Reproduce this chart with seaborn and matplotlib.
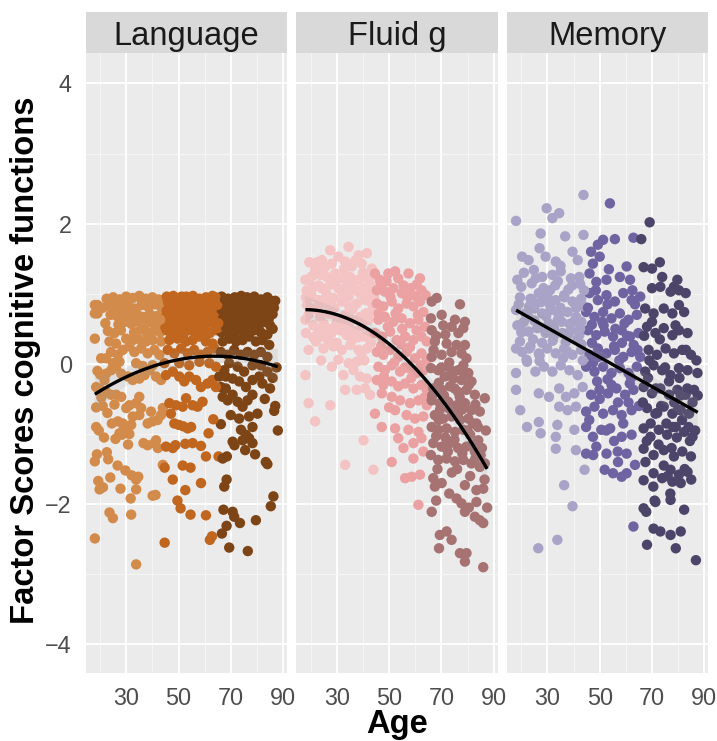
import numpy as np
import pandas as pd
import seaborn as sns
import matplotlib.pyplot as plt
from matplotlib.patches import Rectangle
from matplotlib.collections import PolyCollection

# ---- chart content -------------------------------------------------------
panels = ["Language", "Fluid g", "Memory"]
fit_order = [2, 2, 1]
age_bins = [0, 44.5, 65.5, 100]
age_groups = ["young", "middle", "old"]
palettes = [
    ["#D38B4B", "#C0661F", "#7D4416"],
    ["#F4C3C3", "#EBA1A1", "#A67272"],
    ["#A9A4C7", "#6F63A1", "#4C4469"],
]
x_ticks = [30, 50, 70, 90]
y_ticks = [-4, -2, 0, 2, 4]

# (age, factor score) per participant
language = [
    (18.0, -2.49), (33.8, -2.86), (44.7, -2.55), (62.0, -2.51), (62.8, -2.46), (69.4, -2.62),
    (76.5, -2.67), (66.6, -2.42), (68.4, -2.31), (73.5, -2.27), (79.6, -2.23), (67.2, -2.08),
    (70.7, -2.11), (71.3, -2.18), (85.3, -2.03), (86.3, -1.89), (54.6, -2.15), (50.8, -2.06),
    (49.6, -1.95), (60.5, -2.16), (31.9, -2.15), (23.6, -2.12), (24.9, -2.20),
    (52.6, -1.80), (58.6, -1.70), (67.5, -1.75), (68.4, -1.65), (40.1, -1.88), (41.2, -1.87),
    (31.7, -1.92), (33.8, -1.79), (27.8, -1.78), (19.8, -1.79), (19.3, -1.67), (21.1, -1.76),
    (23.9, -1.62), (29.7, -1.52), (32.1, -1.59), (33.8, -1.65), (34.6, -1.61), (26.7, -1.45),
    (47.8, -1.65), (44.0, -1.44), (44.7, -1.48), (51.6, -1.45), (54.6, -1.48),
    (18.0, -1.39), (18.8, -1.29), (22.6, -1.26), (23.1, -1.36), (30.7, -1.15), (25.9, -1.07),
    (28.4, -1.01), (36.6, -1.13), (38.2, -1.16), (40.8, -1.13), (42.1, -1.20), (41.4, -1.09),
    (45.2, -1.18), (47.8, -1.20), (48.8, -1.16), (52.6, -1.14), (55.4, -1.13), (58.6, -1.17),
    (60.5, -1.32), (65.3, -1.32), (66.9, -1.35), (68.5, -1.32), (83.4, -1.40), (84.0, -1.43),
    (70.7, -1.11), (71.4, -1.16), (75.5, -1.23), (79.3, -1.29), (74.5, -1.09), (77.0, -1.06),
    (78.3, -1.13), (75.8, -1.01),
    (86.6, -0.67), (61.5, -0.99), (66.2, -0.86), (63.3, -0.79),
    (28.7, -0.85), (29.0, -0.93), (31.9, -0.87), (26.8, -0.82), (27.4, -0.99), (31.2, -1.00),
    (32.5, -0.75), (35.0, -0.73), (38.2, -0.85), (40.1, -0.82), (42.0, -0.80), (43.3, -0.73),
    (44.0, -0.63), (39.5, -0.68),
    (47.1, -0.71), (48.4, -0.85), (50.1, -0.87), (51.8, -0.89), (53.5, -0.92), (54.8, -0.90),
    (46.5, -0.56), (49.0, -0.59), (51.6, -0.61), (52.9, -0.49), (55.4, -0.59), (57.3, -0.61),
    (59.2, -0.54),
    (66.9, -0.47), (68.8, -0.52), (70.7, -0.44), (72.6, -0.54), (74.5, -0.61), (76.4, -0.52),
    (78.3, -0.44), (80.2, -0.71), (77.0, -0.75), (73.2, -0.78), (70.0, -0.73), (78.3, -0.90),
    (73.9, -0.94),
    (66.2, -0.33), (68.1, -0.35), (64.3, -0.33),
    (31.2, -0.59), (33.8, -0.56), (30.0, -0.63), (35.0, -0.47), (35.7, -0.63),
    (24.2, -0.44), (26.1, -0.44), (28.1, -0.47), (22.3, -0.40), (18.5, -0.33), (19.8, -0.35),
    (21.7, -0.23),
    (22.3, -0.14), (24.2, -0.09), (26.1, -0.06), (28.1, -0.14), (30.6, -0.18), (32.5, -0.23),
    (35.0, -0.21), (37.0, -0.16), (38.9, -0.09), (41.4, -0.18), (43.3, -0.23), (45.2, -0.16),
    (47.8, -0.11), (50.3, -0.18), (52.2, -0.25), (54.1, -0.18), (56.7, -0.23), (58.6, -0.33),
    (61.1, -0.28), (63.0, -0.23), (65.6, -0.18), (68.1, -0.18), (70.7, -0.21), (73.2, -0.25),
    (75.8, -0.33), (78.3, -0.23), (80.9, -0.18), (82.1, -0.28), (84.0, -0.11), (67.5, -0.09),
    (72.6, -0.04), (75.1, -0.11),
    (40.1, -0.02), (44.6, 0.01), (50.3, 0.01), (54.1, -0.02), (58.0, 0.03), (61.8, 0.01),
    (64.3, -0.04), (69.4, 0.01), (78.3, -0.02), (81.5, -0.02), (27.4, 0.03), (24.9, 0.01),
    (33.8, 0.01), (36.3, -0.03),
    (24.2, 0.17), (26.8, 0.13), (28.7, 0.20), (31.2, 0.25), (33.1, 0.17), (35.7, 0.22),
    (38.2, 0.15), (40.8, 0.20), (42.7, 0.13), (23.6, 0.32), (26.1, 0.29), (30.0, 0.36),
    (32.5, 0.34), (35.0, 0.35), (37.6, 0.32), (40.1, 0.34), (43.3, 0.32), (20.4, 0.08),
    (22.3, 0.08), (18.0, 0.36),
    (45.9, 0.20), (48.4, 0.15), (51.0, 0.22), (53.5, 0.15), (56.0, 0.20), (58.6, 0.13),
    (61.1, 0.17), (63.7, 0.22), (46.5, 0.34), (49.7, 0.36), (52.9, 0.32), (55.4, 0.34),
    (58.0, 0.39), (60.5, 0.32), (63.0, 0.29),
    (66.2, 0.17), (68.8, 0.13), (71.3, 0.20), (73.9, 0.13), (76.4, 0.17), (79.0, 0.13),
    (81.5, 0.17), (84.0, 0.10), (66.9, 0.32), (69.4, 0.36), (72.0, 0.32), (74.5, 0.34),
    (77.0, 0.39), (79.6, 0.32), (82.1, 0.34), (84.7, 0.27),
    (22.5, 0.93), (25.0, 0.95), (27.5, 0.92), (30.0, 0.96), (32.5, 0.94), (35.0, 0.97),
    (37.5, 0.93), (40.0, 0.95), (42.5, 0.92), (45.5, 0.96), (48.0, 0.97), (50.5, 0.94),
    (53.0, 0.96), (55.5, 0.97), (58.0, 0.93), (60.5, 0.95), (63.0, 0.97), (66.5, 0.96),
    (69.0, 0.93), (71.5, 0.95), (74.0, 0.97), (76.5, 0.94), (79.0, 0.96), (81.5, 0.92),
    (84.0, 0.95), (87.0, 0.90),
    (19.0, 0.84), (21.0, 0.80), (23.5, 0.83), (26.0, 0.80), (28.5, 0.85), (31.0, 0.82),
    (33.5, 0.79), (36.0, 0.84), (38.5, 0.81), (41.0, 0.85), (43.5, 0.80), (46.5, 0.84),
    (49.0, 0.82), (51.5, 0.86), (54.0, 0.80), (56.5, 0.84), (59.0, 0.81), (61.5, 0.85),
    (64.0, 0.82), (67.0, 0.84), (69.5, 0.80), (72.0, 0.85), (74.5, 0.82), (77.0, 0.79),
    (79.5, 0.84), (82.0, 0.81), (84.5, 0.86),
    (19.0, 0.72), (24.0, 0.70), (26.5, 0.68), (29.0, 0.73), (31.5, 0.69), (34.0, 0.72),
    (36.5, 0.67), (39.0, 0.71), (41.5, 0.68), (44.0, 0.73), (45.5, 0.70), (48.0, 0.67),
    (50.5, 0.72), (53.0, 0.69), (55.5, 0.74), (58.0, 0.70), (60.5, 0.67), (63.0, 0.72),
    (65.5, 0.69), (68.0, 0.73), (70.5, 0.68), (73.0, 0.71), (75.5, 0.67), (78.0, 0.72),
    (80.5, 0.70), (83.0, 0.66), (86.0, 0.71),
    (22.0, 0.58), (27.0, 0.56), (29.5, 0.60), (32.0, 0.57), (34.5, 0.61), (37.0, 0.55),
    (39.5, 0.59), (42.0, 0.56), (46.0, 0.60), (48.5, 0.57), (51.0, 0.55), (53.5, 0.60),
    (56.0, 0.58), (58.5, 0.55), (61.0, 0.59), (63.5, 0.57), (67.0, 0.60), (69.5, 0.56),
    (72.0, 0.59), (74.5, 0.55), (77.0, 0.60), (79.5, 0.57), (82.0, 0.59), (85.0, 0.55),
    (23.0, 0.47), (25.5, 0.44), (28.0, 0.48), (33.0, 0.45), (35.5, 0.49), (38.0, 0.44),
    (40.5, 0.47), (43.0, 0.45), (45.5, 0.48), (47.0, 0.44), (49.5, 0.47), (52.0, 0.43),
    (54.5, 0.48), (57.0, 0.45), (59.5, 0.47), (62.0, 0.44), (64.5, 0.48), (66.5, 0.45),
    (69.0, 0.47), (71.5, 0.43), (74.0, 0.47), (76.5, 0.44), (79.0, 0.48), (81.5, 0.45),
    (84.0, 0.42),
    (46.0, 0.88), (48.5, 0.90), (51.0, 0.87), (53.5, 0.91), (56.0, 0.88), (58.5, 0.89),
    (61.0, 0.87), (63.5, 0.90), (67.5, 0.88), (70.0, 0.90), (72.5, 0.87), (75.0, 0.90),
    (77.5, 0.88), (80.0, 0.91), (82.5, 0.87), (85.5, 0.90),
    (45.5, 0.76), (47.0, 0.77), (52.0, 0.75), (54.5, 0.78), (57.0, 0.76), (59.5, 0.75),
    (62.0, 0.78), (64.5, 0.76), (66.5, 0.77), (71.0, 0.75), (73.5, 0.78), (76.0, 0.76),
    (78.5, 0.75), (81.0, 0.77), (83.5, 0.76), (86.5, 0.80),
    (47.0, 0.63), (49.5, 0.64), (52.0, 0.62), (57.0, 0.65), (59.5, 0.62), (62.0, 0.64),
    (64.5, 0.63), (67.0, 0.65), (69.5, 0.62), (72.0, 0.64), (77.0, 0.63), (79.5, 0.65),
    (82.0, 0.62), (84.5, 0.64),
    (45.0, 0.52), (50.0, 0.51), (52.5, 0.53), (55.0, 0.50), (60.0, 0.52), (65.0, 0.51),
    (68.0, 0.53), (70.5, 0.50), (73.0, 0.52), (78.0, 0.51), (80.5, 0.53), (86.0, 0.50),
    (26.0, 0.88), (31.0, 0.90), (36.0, 0.89), (41.0, 0.87), (28.0, 0.64), (33.0, 0.62),
    (38.0, 0.65), (43.0, 0.63), (18.0, 0.84), (18.0, 0.72),
    (45.8, 0.93), (47.2, 0.85), (49.8, 0.79), (50.2, 0.66), (52.8, 0.88), (54.2, 0.70),
    (55.8, 0.55), (57.5, 0.92), (58.2, 0.78), (60.2, 0.60), (61.8, 0.73), (62.7, 0.92),
    (64.8, 0.84), (65.2, 0.58), (46.8, 0.50), (48.8, 0.72), (51.2, 0.96), (53.8, 0.53),
    (56.8, 0.68), (59.2, 0.86), (60.8, 0.45), (63.2, 0.66), (64.2, 0.95), (57.8, 0.42),
    (50.8, 0.40),
    (18.5, -0.62), (19.5, -0.95), (20.5, -0.48), (21.5, -1.05), (22.8, -0.70), (24.5, -0.85),
    (25.5, -0.58), (20.0, -0.15),
    (67.8, 0.92), (70.2, 0.70), (71.8, 0.88), (73.2, 0.60), (74.8, 0.80), (76.2, 0.95),
    (78.2, 0.66), (75.6, 0.48),
    (85.0, -0.35), (87.0, -0.60), (86.0, -0.20), (83.0, -0.50), (88.0, -0.95), (87.5, -0.05),
    (18.5, -0.90), (19.0, -0.10), (21.0, -0.60),
]

fluid = [
    (34.5, 1.67), (27.5, 1.62), (41.5, 1.58), (38.3, 1.55), (24.3, 1.48), (30.6, 1.53),
    (33.2, 1.46), (28.1, 1.43), (35.7, 1.39), (39.5, 1.43), (43.4, 1.36),
    (21.7, 1.34), (19.2, 1.20), (18.0, 1.20), (23.6, 1.27), (26.2, 1.24), (29.4, 1.29),
    (32.5, 1.22), (35.1, 1.24), (38.3, 1.20), (41.5, 1.22), (44.0, 1.27),
    (21.1, 1.10), (24.3, 1.08), (27.5, 1.13), (30.6, 1.08), (33.8, 1.10), (37.0, 1.05),
    (40.2, 1.08), (42.7, 1.03),
    (18.6, 0.84), (20.5, 0.96), (23.0, 0.91), (25.6, 0.86), (28.7, 0.94), (31.9, 0.89),
    (34.5, 0.96), (37.6, 0.86), (40.8, 0.91), (43.4, 0.86),
    (18.0, 0.63), (19.2, 0.70), (23.6, 0.67), (26.8, 0.72), (30.0, 0.65), (33.2, 0.70),
    (35.7, 0.63), (38.9, 0.67), (42.1, 0.63),
    (18.2, 0.44), (23.0, 0.48), (24.9, 0.39), (28.1, 0.44), (31.3, 0.48), (33.8, 0.41),
    (37.0, 0.46), (40.2, 0.39), (42.7, 0.44),
    (19.2, 0.20), (24.9, 0.22), (28.7, 0.25), (31.9, 0.20), (35.1, 0.27), (38.3, 0.20),
    (41.5, 0.22),
    (18.0, -0.16), (28.1, -0.04), (32.5, -0.16), (36.4, -0.09), (38.9, -0.18), (41.5, -0.21),
    (34.5, 0.01), (37.6, 0.03), (39.5, 0.10), (30.6, 0.06),
    (33.2, -0.37), (37.6, -0.37), (40.8, -0.35), (42.7, -0.44),
    (19.2, -0.56), (27.5, -0.59), (21.7, -0.82), (33.2, -1.44), (40.2, -1.09), (44.0, -1.51),
    (20.0, 1.02), (22.5, 0.78), (26.0, 1.00), (29.0, 0.80), (32.0, 1.02), (36.0, 0.78),
    (39.0, 1.00), (43.0, 0.74), (21.0, 0.55), (25.0, 0.57), (29.5, 0.55), (34.0, 0.56),
    (39.5, 0.54), (22.0, 0.32), (27.0, 0.33), (36.0, 0.35), (43.0, 0.30), (44.0, 1.10),
    (44.2, 0.95),
    (20.5, 1.25), (23.0, 1.12), (25.5, 1.38), (27.0, 0.92), (29.5, 1.18), (31.0, 0.60),
    (32.8, 1.35), (34.8, 0.82), (36.5, 1.15), (38.0, 0.38), (40.0, 1.30), (41.0, 0.72),
    (42.5, 1.15), (24.0, 0.05), (26.5, 0.50), (30.0, 0.30), (35.0, 0.50), (40.5, 0.05),
    (21.0, 0.38), (37.0, 1.47),
    (18.5, 1.05), (19.5, 1.45), (20.0, 0.80), (18.2, 0.95), (22.5, 1.45),
    (44.6, 1.29), (46.5, 1.20), (49.7, 1.29), (52.3, 1.32), (53.5, 1.22), (57.4, 1.29),
    (61.8, 1.22), (60.5, 1.13), (58.0, 1.08), (62.4, 1.05), (51.6, 1.08), (48.4, 1.03),
    (54.8, 1.01), (45.3, 1.05),
    (45.3, 0.86), (47.8, 0.82), (51.0, 0.89), (53.5, 0.79), (56.7, 0.86), (59.3, 0.82),
    (61.8, 0.89), (63.1, 0.74),
    (45.9, 0.63), (48.4, 0.67), (51.6, 0.60), (54.8, 0.65), (58.0, 0.58), (61.2, 0.63),
    (63.7, 0.53),
    (44.6, 0.44), (47.2, 0.39), (50.4, 0.46), (52.9, 0.34), (56.1, 0.39), (59.3, 0.34),
    (62.4, 0.39), (64.4, 0.32),
    (45.3, 0.17), (47.8, 0.13), (50.4, 0.20), (53.5, 0.10), (56.7, 0.17), (59.9, 0.08),
    (62.4, 0.15), (64.4, 0.06),
    (45.9, -0.04), (48.4, -0.09), (51.0, -0.02), (54.2, -0.11), (57.4, -0.06), (60.5, -0.13),
    (63.1, -0.09),
    (45.3, -0.23), (47.8, -0.30), (51.0, -0.25), (53.5, -0.32), (56.1, -0.28), (59.3, -0.35),
    (62.4, -0.30), (64.4, -0.37),
    (47.2, -0.42), (51.0, -0.47), (54.2, -0.52), (58.0, -0.56), (61.2, -0.52), (64.4, -0.59),
    (44.6, -0.71), (52.3, -0.66), (56.7, -0.73), (59.9, -0.78), (63.1, -0.75),
    (47.2, -0.90), (52.3, -0.92), (57.4, -0.94), (61.2, -0.97),
    (53.5, -1.06), (55.5, -1.20), (59.3, -1.13), (59.3, -1.35), (62.4, -1.06), (63.1, -1.25),
    (51.0, -1.40), (56.1, -1.63), (58.6, -1.61), (61.8, -1.58), (61.2, -2.01),
    (47.0, 1.12), (50.5, 0.96), (55.5, 1.12), (60.0, 0.97), (49.5, 0.53), (55.0, 0.50),
    (60.5, 0.48), (47.0, 0.26), (58.0, 0.24), (52.0, 0.02), (62.0, -0.02),
    (46.0, 0.72), (49.0, 1.18), (52.5, 0.72), (57.0, 0.95), (61.0, 0.70), (64.0, 0.98),
    (48.0, -0.18), (54.5, 0.28), (58.5, -0.20), (63.5, -0.48), (50.0, -0.62), (56.0, -0.05),
    (68.2, 0.94), (66.3, 0.89), (77.1, 0.85), (70.1, 0.70), (66.0, 0.65), (75.2, 0.63),
    (79.0, 0.60), (70.7, 0.55), (73.9, 0.53), (78.4, 0.51), (66.3, 0.48),
    (67.5, 0.32), (72.0, 0.29), (75.8, 0.27), (79.0, 0.27), (73.9, 0.17), (77.7, 0.15),
    (70.1, 0.13), (66.3, 0.10), (79.6, 0.08),
    (66.0, -0.06), (68.8, -0.09), (72.6, -0.04), (76.4, -0.09), (78.4, -0.02), (80.3, -0.13),
    (71.3, -0.18), (74.5, -0.21), (77.7, -0.23), (81.5, -0.25),
    (66.9, -0.35), (70.1, -0.37), (73.3, -0.32), (76.4, -0.40), (79.6, -0.37), (82.8, -0.44),
    (86.6, -0.49),
    (66.3, -0.52), (69.4, -0.56), (72.6, -0.54), (75.8, -0.59), (79.0, -0.56), (81.5, -0.66),
    (84.7, -0.68),
    (67.5, -0.73), (70.7, -0.78), (73.9, -0.75), (77.1, -0.80), (80.3, -0.78), (83.4, -0.85),
    (66.3, -0.90), (68.8, -0.94), (72.0, -0.92), (75.2, -0.97), (78.4, -0.94), (81.0, -1.01),
    (84.1, -1.09),
    (66.9, -1.13), (70.1, -1.18), (73.3, -1.13), (76.4, -1.20), (79.6, -1.18), (82.8, -1.25),
    (66.0, -1.30), (68.8, -1.37), (72.0, -1.35), (75.2, -1.39), (78.4, -1.37), (81.5, -1.42),
    (84.7, -1.47), (86.6, -1.42),
    (66.9, -1.63), (70.1, -1.70), (67.5, -1.75), (79.0, -1.73), (83.4, -1.80), (86.0, -1.78),
    (75.8, -1.92), (77.7, -1.99), (79.0, -2.11), (83.4, -1.97), (82.8, -2.18), (86.0, -2.27),
    (84.7, -2.23),
    (66.3, -2.11), (69.4, -2.44), (72.0, -2.39), (73.9, -2.51), (69.1, -2.63), (77.1, -2.70),
    (79.6, -2.70), (79.0, -2.82), (86.0, -2.90),
    (68.0, 0.40), (71.5, 0.42), (76.5, 0.44), (69.0, -0.27), (73.0, 0.02), (77.0, -0.47),
    (80.5, -0.30), (84.0, -0.90), (68.0, -1.03), (71.5, -1.05), (75.0, -1.08), (78.0, -1.28),
    (82.0, -1.15), (85.5, -1.20), (69.5, -0.65), (73.0, -0.64), (76.5, -0.70), (83.0, -0.58),
    (68.5, -1.50), (74.0, -1.55), (81.0, -1.60), (87.0, -0.95),
    (67.0, 0.20), (70.0, -0.05), (74.0, -0.10), (78.0, -0.65), (82.0, -0.85), (85.0, -1.30),
    (69.0, -0.80), (72.5, -1.25), (76.0, -1.50), (80.0, -0.95), (66.5, -0.45), (71.0, -0.45),
    (75.0, -0.35), (79.0, -0.15), (83.0, -1.35), (86.5, -1.65), (87.5, -2.05), (73.0, -1.85),
    (68.0, -1.95), (80.5, -2.05),
]

memory = [
    (43.8, 2.41), (53.9, 2.29), (29.7, 2.22), (34.5, 2.15), (31.9, 2.08), (18.0, 2.04),
    (69.1, 2.02),
    (27.4, 1.86), (36.8, 1.82), (43.8, 1.84), (51.3, 1.77), (55.8, 1.78), (62.9, 1.80),
    (65.9, 1.78), (49.3, 1.70),
    (20.3, 1.53), (22.8, 1.48), (27.0, 1.65), (29.3, 1.53), (33.2, 1.46), (39.6, 1.60),
    (41.6, 1.48), (46.7, 1.60), (50.0, 1.53), (47.4, 1.43), (60.3, 1.39), (66.8, 1.38),
    (73.0, 1.45), (70.0, 1.36),
    (24.8, 1.34), (28.0, 1.24), (31.9, 1.27), (35.1, 1.32), (39.0, 1.22), (42.2, 1.24),
    (46.1, 1.29), (48.7, 1.17), (52.6, 1.20), (57.7, 1.24), (61.6, 1.20), (73.9, 1.24),
    (79.7, 1.20), (78.4, 1.10),
    (23.5, 0.93), (26.7, 1.01), (29.9, 0.96), (33.2, 0.91), (36.4, 0.98), (39.6, 0.89),
    (42.9, 0.93), (46.1, 1.01), (49.3, 0.91), (52.6, 0.98), (55.8, 0.89), (59.0, 1.01),
    (62.2, 0.91), (65.5, 0.96), (70.0, 1.08), (73.2, 1.10), (77.1, 1.03), (80.3, 1.05),
    (82.9, 1.01),
    (18.0, 0.77), (21.6, 0.72), (24.8, 0.79), (28.0, 0.72), (31.2, 0.77), (34.5, 0.70),
    (37.7, 0.74), (41.0, 0.67), (44.8, 0.74), (48.0, 0.67), (51.3, 0.74), (54.5, 0.65),
    (57.7, 0.72), (61.0, 0.63), (64.2, 0.70), (67.4, 0.79), (70.6, 0.72), (74.5, 0.79),
    (77.8, 0.72), (80.3, 0.84), (82.3, 0.74),
    (19.6, 0.53), (22.8, 0.46), (26.1, 0.51), (29.3, 0.44), (32.5, 0.51), (35.8, 0.44),
    (39.0, 0.48), (42.2, 0.41), (45.5, 0.48), (48.7, 0.41), (51.9, 0.46), (55.1, 0.39),
    (58.4, 0.48), (61.6, 0.39), (64.8, 0.44), (68.1, 0.53), (71.3, 0.44), (74.5, 0.51),
    (77.8, 0.41), (80.3, 0.48), (83.6, 0.44),
    (18.0, 0.22), (20.3, 0.17), (23.5, 0.25), (26.7, 0.15), (29.9, 0.22), (33.2, 0.15),
    (36.4, 0.22), (39.6, 0.13), (42.9, 0.20), (46.1, 0.13), (49.3, 0.22), (52.6, 0.15),
    (55.8, 0.20), (59.0, 0.10), (62.2, 0.17), (65.5, 0.10), (68.7, 0.20), (71.9, 0.13),
    (75.2, 0.22), (78.4, 0.15), (81.6, 0.20), (84.9, 0.13),
    (18.0, -0.13), (22.2, 0.03), (25.4, -0.11), (28.7, -0.04), (31.9, -0.11), (35.1, -0.02),
    (38.4, -0.09), (41.6, -0.16), (44.8, -0.04), (48.0, -0.11), (51.3, -0.04), (54.5, -0.13),
    (57.7, -0.06), (61.0, -0.13), (64.2, -0.04), (67.4, -0.11), (70.6, -0.02), (73.9, -0.09),
    (77.1, -0.16), (80.3, -0.06), (83.6, -0.09), (87.4, -0.13),
    (18.0, -0.37), (26.7, -0.42), (30.6, -0.47), (34.5, -0.35), (37.1, -0.47), (40.3, -0.42),
    (43.5, -0.33), (46.7, -0.44), (49.9, -0.37), (53.2, -0.42), (56.4, -0.35), (59.7, -0.44),
    (62.9, -0.37), (66.8, -0.33), (70.0, -0.42), (73.2, -0.35), (76.5, -0.44), (79.7, -0.37),
    (82.9, -0.44), (86.1, -0.37),
    (19.6, -0.66), (34.5, -0.61), (37.7, -0.66), (40.9, -0.61), (44.8, -0.68), (48.0, -0.61),
    (51.3, -0.71), (55.1, -0.66), (58.4, -0.73), (62.2, -0.66), (68.1, -0.63), (71.3, -0.71),
    (74.5, -0.61), (77.8, -0.71), (81.0, -0.66), (84.2, -0.71),
    (22.2, -0.90), (26.7, -0.83), (27.4, -0.99), (33.2, -1.04), (33.8, -0.87), (40.3, -0.94),
    (44.8, -0.90), (47.4, -1.04), (50.6, -0.94), (54.0, -0.92), (58.4, -1.04), (62.2, -1.01),
    (66.8, -0.92), (69.4, -1.04), (72.6, -0.94), (75.8, -1.01), (79.1, -0.90), (82.3, -0.97),
    (85.5, -1.04),
    (33.2, -1.21), (40.9, -1.23), (44.8, -1.28), (48.7, -1.18), (52.6, -1.28), (56.9, -1.25),
    (60.3, -1.28), (66.8, -1.21), (70.6, -1.30), (74.5, -1.23), (78.4, -1.32), (81.6, -1.25),
    (84.9, -1.32),
    (44.2, -1.51), (51.9, -1.51), (55.1, -1.56), (58.4, -1.61), (60.3, -1.56), (63.5, -1.44),
    (66.8, -1.66), (70.6, -1.56), (73.9, -1.63), (77.1, -1.51), (80.3, -1.58), (83.6, -1.54),
    (81.0, -1.70), (77.8, -1.68),
    (36.4, -1.73), (39.6, -2.03), (62.9, -2.32), (66.8, -2.06), (67.8, -2.11), (71.3, -1.97),
    (77.1, -1.94), (82.3, -2.08), (70.6, -2.35), (73.2, -2.39), (77.1, -2.44), (81.0, -2.39),
    (68.1, -2.58), (79.1, -2.63), (33.8, -2.51), (26.5, -2.63), (86.8, -2.80),
    (20.0, 1.10), (24.0, 1.15), (28.5, 1.08), (33.0, 1.12), (38.0, 1.06), (42.5, 1.14),
    (19.0, 0.85), (23.0, 0.82), (27.5, 0.88), (31.0, 0.84), (35.0, 0.80), (40.5, 0.86),
    (44.0, 0.82), (21.0, 0.60), (25.0, 0.62), (30.5, 0.58), (34.0, 0.63), (38.5, 0.57),
    (43.0, 0.60), (19.5, 0.32), (24.5, 0.35), (28.0, 0.30), (32.0, 0.33), (37.0, 0.31),
    (41.5, 0.35), (22.0, 0.06), (27.0, 0.04), (36.0, 0.08), (43.5, 0.05),
    (47.0, 0.56), (51.0, 0.60), (55.5, 0.25), (59.5, 0.58), (49.0, -0.25), (53.0, -0.22),
    (57.0, -0.55), (61.5, -0.28), (63.0, 0.27), (47.5, 0.02),
    (18.5, 1.20), (19.5, 0.95), (21.0, 1.30), (22.5, 0.68), (24.0, 0.92), (25.5, 1.22),
    (26.5, 0.52), (28.0, 0.98), (29.5, 0.68), (31.0, 1.05), (32.5, 0.40), (34.0, 1.18),
    (35.5, 0.60), (36.5, 0.95), (38.0, 0.42), (39.5, 1.12), (41.0, 0.80), (42.5, 0.50),
    (44.0, 1.05), (20.0, 0.45), (23.0, 0.22), (27.0, 0.12), (30.5, 0.92), (33.5, 0.75),
    (37.5, 0.18), (40.0, 0.60), (43.0, 0.28), (18.5, 0.55), (25.0, 0.80), (35.0, 1.40),
    (45.5, 0.80), (47.0, 0.30), (48.5, 1.05), (50.0, -0.50), (51.5, 0.55), (53.0, 0.85),
    (54.5, -0.30), (56.0, 0.50), (57.5, 0.05), (59.0, -0.85), (60.5, 0.40), (62.0, -0.20),
    (63.5, 0.85), (65.0, -0.60), (46.0, -0.80), (49.5, 0.10), (52.5, -0.95), (55.5, -1.10),
    (58.5, 0.30), (61.0, -0.55), (64.5, 0.20), (47.5, -1.30), (53.5, 1.35), (57.0, -1.40),
    (62.5, 1.05),
    (66.5, -0.55), (67.5, -1.40), (68.5, -0.20), (69.5, -0.85), (70.5, -1.75), (71.5, -0.35),
    (72.5, -1.15), (73.5, -0.60), (74.5, -1.45), (75.5, -0.85), (76.5, -0.25), (77.5, -1.20),
    (78.5, -0.55), (79.5, -1.05), (80.5, -0.20), (81.5, -0.80), (82.5, -1.50), (83.5, -0.35),
    (84.5, -1.10), (85.5, -0.55), (86.5, -0.95), (87.5, -0.45), (67.0, 0.40), (69.0, 0.05),
    (71.0, -1.95), (73.0, 0.35), (75.0, -0.05), (77.0, -1.85), (79.0, 0.55), (81.0, -0.45),
    (83.0, 0.20), (85.0, -1.65), (87.0, 0.05), (68.0, -1.10), (72.0, -0.70), (76.0, -1.60),
    (80.0, -0.65), (84.0, -0.90), (70.0, 0.60), (78.0, -0.90),
]

panel_data = [language, fluid, memory]

# ---- styling -------------------------------------------------------------
sns.set_theme(style="darkgrid")
plt.rcParams["font.family"] = ["Liberation Sans", "DejaVu Sans"]

W, H = 717, 741
fig = plt.figure(figsize=(W / 100, H / 100), dpi=100)
fig.patch.set_facecolor("white")

panel_left = [85.7, 296.3, 506.9]
panel_w = 201.3
panel_top, panel_bottom = 53.0, 672.7
panel_h = panel_bottom - panel_top
strip_h = 41.0

for i, name in enumerate(panels):
    ax = fig.add_axes([panel_left[i] / W, 1 - panel_bottom / H, panel_w / W, panel_h / H])
    df = pd.DataFrame(panel_data[i], columns=["age", "score"])
    df["group"] = pd.cut(df["age"], bins=age_bins, labels=age_groups)

    sns.scatterplot(data=df, x="age", y="score", hue="group", hue_order=age_groups,
                    palette=palettes[i], s=56, linewidth=0, legend=False, ax=ax, zorder=2)
    sns.regplot(data=df, x="age", y="score", order=fit_order[i], scatter=False,
                ci=95, n_boot=1000, seed=3, color="black",
                line_kws={"lw": 2.4, "zorder": 4, "solid_capstyle": "butt"}, ax=ax)
    for coll in ax.collections:
        if isinstance(coll, PolyCollection):
            coll.set_facecolor((0.6, 0.6, 0.6, 0.4))
            coll.set_edgecolor("none")
            coll.set_zorder(3)

    ax.set_facecolor("#EBEBEB")
    for sp in ax.spines.values():
        sp.set_visible(False)
    ax.set_xlim(14.5, 91.5)
    ax.set_ylim(-4.405, 4.435)
    ax.set_xticks(x_ticks)
    ax.set_xticks([20, 40, 60, 80], minor=True)
    ax.set_yticks(y_ticks)
    ax.set_yticks([-3, -1, 1, 3], minor=True)
    ax.set_xticklabels([str(t) for t in x_ticks])
    ax.grid(which="major", color="white", lw=1.3)
    ax.grid(which="minor", color="#F7F7F7", lw=0.6)
    ax.set_axisbelow(True)
    ax.tick_params(which="major", length=7, width=1.1, color="#333333",
                   labelsize=16.8, labelcolor="#4D4D4D", pad=3)
    ax.tick_params(which="minor", length=0)
    if i == 0:
        ax.set_yticklabels(["\u22124", "\u22122", "0", "2", "4"])
    else:
        ax.tick_params(axis="y", which="both", length=0, labelleft=False)
    ax.set_xlabel("")
    ax.set_ylabel("")

    # facet strip
    ax.add_patch(Rectangle((0, 1), 1, strip_h / panel_h, transform=ax.transAxes,
                           facecolor="#D9D9D9", edgecolor="none", clip_on=False))
    ax.text(0.5, 1 + 8.5 / panel_h, name, transform=ax.transAxes, ha="center",
            va="baseline", fontsize=23.6, color="#1A1A1A")

fig.text(397 / W, 8 / H, "Age", ha="center", va="baseline",
         fontsize=23.6, fontweight="bold", color="black")
fig.text(26 / W, 1 - 360 / H, "Factor Scores cognitive functions", rotation=90,
         ha="center", va="center", fontsize=23.6, fontweight="bold", color="black")

fig.savefig("out.png", dpi=100)
